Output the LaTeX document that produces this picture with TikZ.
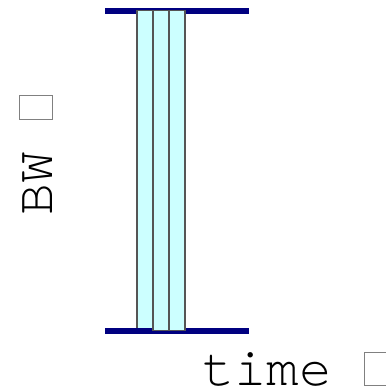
\documentclass[tikz,border=0pt]{standalone}
\usepackage{fontspec}
\setmonofont{TeX Gyre Cursor}
\definecolor{barblue}{HTML}{000080}
\definecolor{slotfill}{HTML}{CCFFFF}
\definecolor{slotedge}{HTML}{555555}
\definecolor{boxgray}{HTML}{808080}
% empty placeholder box that follows each axis label
\newcommand\axisbox{{\setlength\fboxsep{0pt}\setlength\fboxrule{0.9bp}%
  \fcolorbox{boxgray}{white}{\rule{0pt}{32bp}\rule{23bp}{0pt}}}}
\tikzset{
  bar/.style={fill=barblue, draw=none},
  slot/.style={fill=slotfill, draw=slotedge, line width=1.4bp},
  axislabel/.style={font=\ttfamily\fontsize{53bp}{58bp}\selectfont, inner sep=0pt, outer sep=0pt}
}
\begin{document}
\begin{tikzpicture}[x=1bp, y=-1bp]
  \useasboundingbox (0,0) rectangle (386,389);
  % upper band edge
  \fill[bar] (105,8) rectangle (249,14);
  % first slot, partly under the lower band edge
  \draw[slot] (137,10.7) rectangle (153,333);
  % lower band edge
  \fill[bar] (105,328) rectangle (249,334);
  % remaining slots
  \draw[slot] (153,10.7) rectangle (169,330.7);
  \draw[slot] (169,10.7) rectangle (185,330.7);
  % axis labels
  \node[axislabel, rotate=90, anchor=base west] (bw) at (52,215) {BW \axisbox};
  \node[axislabel, anchor=base west, font=\ttfamily\fontsize{54bp}{58bp}\selectfont] (time) at (202,385) {time \axisbox};
\end{tikzpicture}
\end{document}
